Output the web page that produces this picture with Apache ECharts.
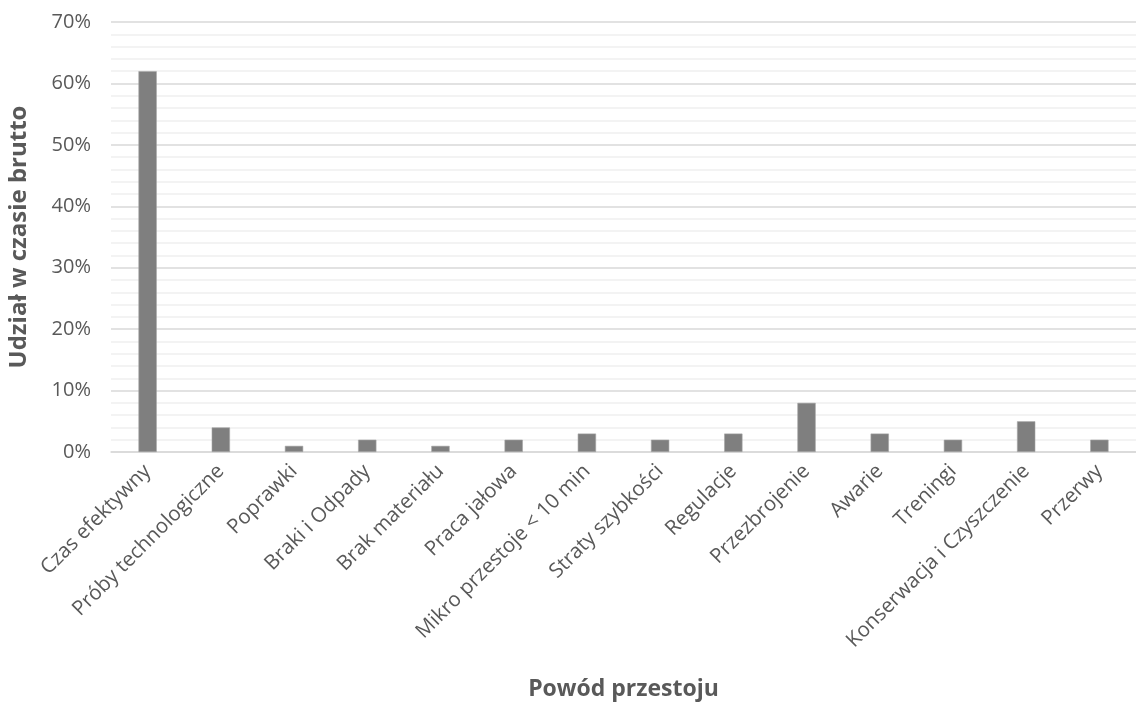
<!DOCTYPE html>
<html>
<head>
<meta charset="utf-8">
<script src="https://cdn.jsdelivr.net/npm/echarts@6/dist/echarts.min.js"></script>
<style>
  html, body { margin: 0; padding: 0; background: #fff; }
  #chart { width: 1136px; height: 707px; }
</style>
</head>
<body>
<div id="chart"></div>
<script>
// Downtime reasons and their share of gross time (%)
const categories = [
  'Czas efektywny', 'Próby technologiczne', 'Poprawki', 'Braki i Odpady',
  'Brak materiału', 'Praca jałowa', 'Mikro przestoje < 10 min', 'Straty szybkości',
  'Regulacje', 'Przezbrojenie', 'Awarie', 'Treningi',
  'Konserwacja i Czyszczenie', 'Przerwy'
];
const shares = [62, 4, 1, 2, 1, 2, 3, 2, 3, 8, 3, 2, 5, 2];
const yTicks = [0, 10, 20, 30, 40, 50, 60, 70];

const font = '"Open Sans", "Noto Sans", sans-serif';
const chart = echarts.init(document.getElementById('chart'));
chart.setOption({
  animation: false,
  grid: { left: 111, right: 0, top: 22, bottom: 255, containLabel: false, outerBoundsMode: 'none' },
  xAxis: {
    type: 'category',
    data: categories,
    name: 'Powód przestoju',
    nameLocation: 'middle',
    nameGap: 226,
    nameTextStyle: { fontFamily: font, fontSize: 23, fontWeight: 'bold', color: '#595959' },
    axisLine: { show: true, lineStyle: { color: '#d9d9d9', width: 1.5 } },
    axisTick: { show: false },
    axisLabel: {
      interval: 0, rotate: 45, margin: 16,
      fontFamily: font, fontSize: 20.5, color: '#595959'
    }
  },
  yAxis: {
    type: 'value',
    min: yTicks[0],
    max: yTicks[yTicks.length - 1],
    interval: 10,
    name: 'Udział w czasie brutto',
    nameLocation: 'middle',
    nameGap: 80,
    nameRotate: 90,
    nameTextStyle: { fontFamily: font, fontSize: 24, fontWeight: 'bold', color: '#595959' },
    axisLine: { show: false },
    axisTick: { show: false },
    axisLabel: {
      margin: 20,
      fontFamily: font, fontSize: 20, color: '#595959',
      formatter: v => v + '%'
    },
    splitLine: { show: true, lineStyle: { color: '#d9d9d9', width: 1.5 } },
    minorTick: { show: false, splitNumber: 5 },
    minorSplitLine: { show: true, lineStyle: { color: '#f0f0f0', width: 1.5 } }
  },
  series: [{
    type: 'bar',
    data: shares,
    barWidth: '25%',
    itemStyle: { color: '#7f7f7f', borderColor: '#a6a6a6', borderWidth: 0.6 }
  }]
});
</script>
</body>
</html>
